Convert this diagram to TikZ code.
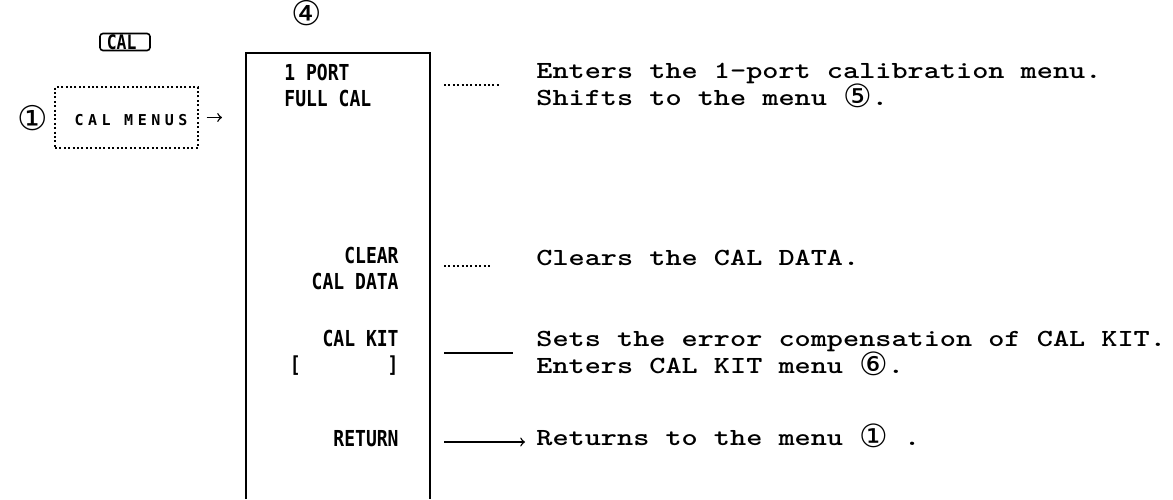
\documentclass[tikz,border=0pt]{standalone}
\usepackage{fontspec}
\usetikzlibrary{calc}
\newfontfamily\descfont{lmmonolt10-bold.otf}[FakeStretch=1.25]
\newfontfamily\menufont{DejaVu Sans Mono}[FakeStretch=0.82]
\newfontfamily\keyfont{DejaVu Sans Mono}[LetterSpace=30]
\newfontfamily\symfont{DejaVu Sans}
\newcommand{\circnum}[1]{\raisebox{-1pt}{\smash{\symfont\fontsize{16}{13}\selectfont #1}}}

\begin{document}
\begin{tikzpicture}[x=0.5pt, y=-0.5pt,
    menutext/.style={font=\menufont\bfseries\fontsize{11}{13}\selectfont, align=left, inner sep=0pt},
    desc/.style={font=\descfont\fontsize{12.3}{13.5}\selectfont, align=left, anchor=west, inner sep=0pt},
    numtag/.style={font=\symfont\fontsize{17}{17}\selectfont, inner sep=0pt},
    link/.style={line width=0.7pt, shorten <=7pt}]
    % Fix the page size
    \useasboundingbox (0,0) rectangle (1173,499);

    % Menu number on top of the softkey column
    \node[numtag] (num4) at (307,13) {④};

    % CAL key and the CAL MENUS box
    \node[draw, rounded corners=1.5pt, line width=0.8pt, minimum width=25pt, minimum height=8.5pt,
          inner sep=0pt, font=\menufont\bfseries\fontsize{10}{10}\selectfont] (calkey) at (125,42) {CAL\,\,};
    \node[draw, dash pattern=on 1pt off 1.2pt, line width=0.7pt, minimum width=71.5pt,
          minimum height=30.5pt] (menus) at (126.5,117.5) {};
    \node[font=\keyfont\bfseries\fontsize{7.5}{7.5}\selectfont, inner sep=0pt] (menuslbl) at (131,120) {CAL MENUS};
    \node[numtag] (num1) at (33,118) {①};

    % Softkey column, open at the bottom
    \coordinate (boxBL) at (246,499);
    \coordinate (boxTL) at (246,53);
    \coordinate (boxTR) at (430,53);
    \coordinate (boxBR) at (430,499);
    \draw[line width=0.8pt] (boxBL) -- (boxTL) -- (boxTR) -- (boxBR);
    \draw[->, line width=0.7pt, shorten <=4pt, shorten >=12pt] (menus.east) -- (menus.east -| boxTL);

    % Softkey labels
    \node[menutext, anchor=west] (kport) at (284,85) {1 PORT\\FULL CAL};
    \node[menutext, anchor=east, align=right] (kclear) at (399,268) {CLEAR\\CAL DATA};
    \node[menutext, anchor=east, align=right] (kkit) at (399,353) {CAL KIT\\{[}\phantom{XXXXXXXX}{]}};
    \node[menutext, anchor=east] (kret) at (399,439) {RETURN};

    % Descriptions
    \node[desc] (d1) at (536,85) {Enters the 1-port calibration menu.\\Shifts to the menu~\circnum{⑤}.};
    \node[desc] (d2) at (536,258) {Clears the CAL DATA.};
    \node[desc] (d3) at (536,353) {Sets the error compensation of CAL KIT.\\Enters CAL KIT menu~\circnum{⑥}.};
    \node[desc] (d4) at (536,439) {Returns to the menu \circnum{①} .};

    % Connectors from the softkeys
    \coordinate (r1) at (430,85);
    \coordinate (r2) at (430,266);
    \coordinate (r3) at (430,353);
    \coordinate (r4) at (430,442);
    \draw[link, dash pattern=on 1pt off 1.2pt, shorten >=18pt] (r1) -- (r1 -| d1.west);
    \draw[link, dash pattern=on 1pt off 1.2pt, shorten >=23pt] (r2) -- (r2 -| d2.west);
    \draw[link, shorten >=11.5pt] (r3) -- (r3 -| d3.west);
    \draw[link, ->, shorten >=5.5pt] (r4) -- (r4 -| d4.west);
\end{tikzpicture}
\end{document}
